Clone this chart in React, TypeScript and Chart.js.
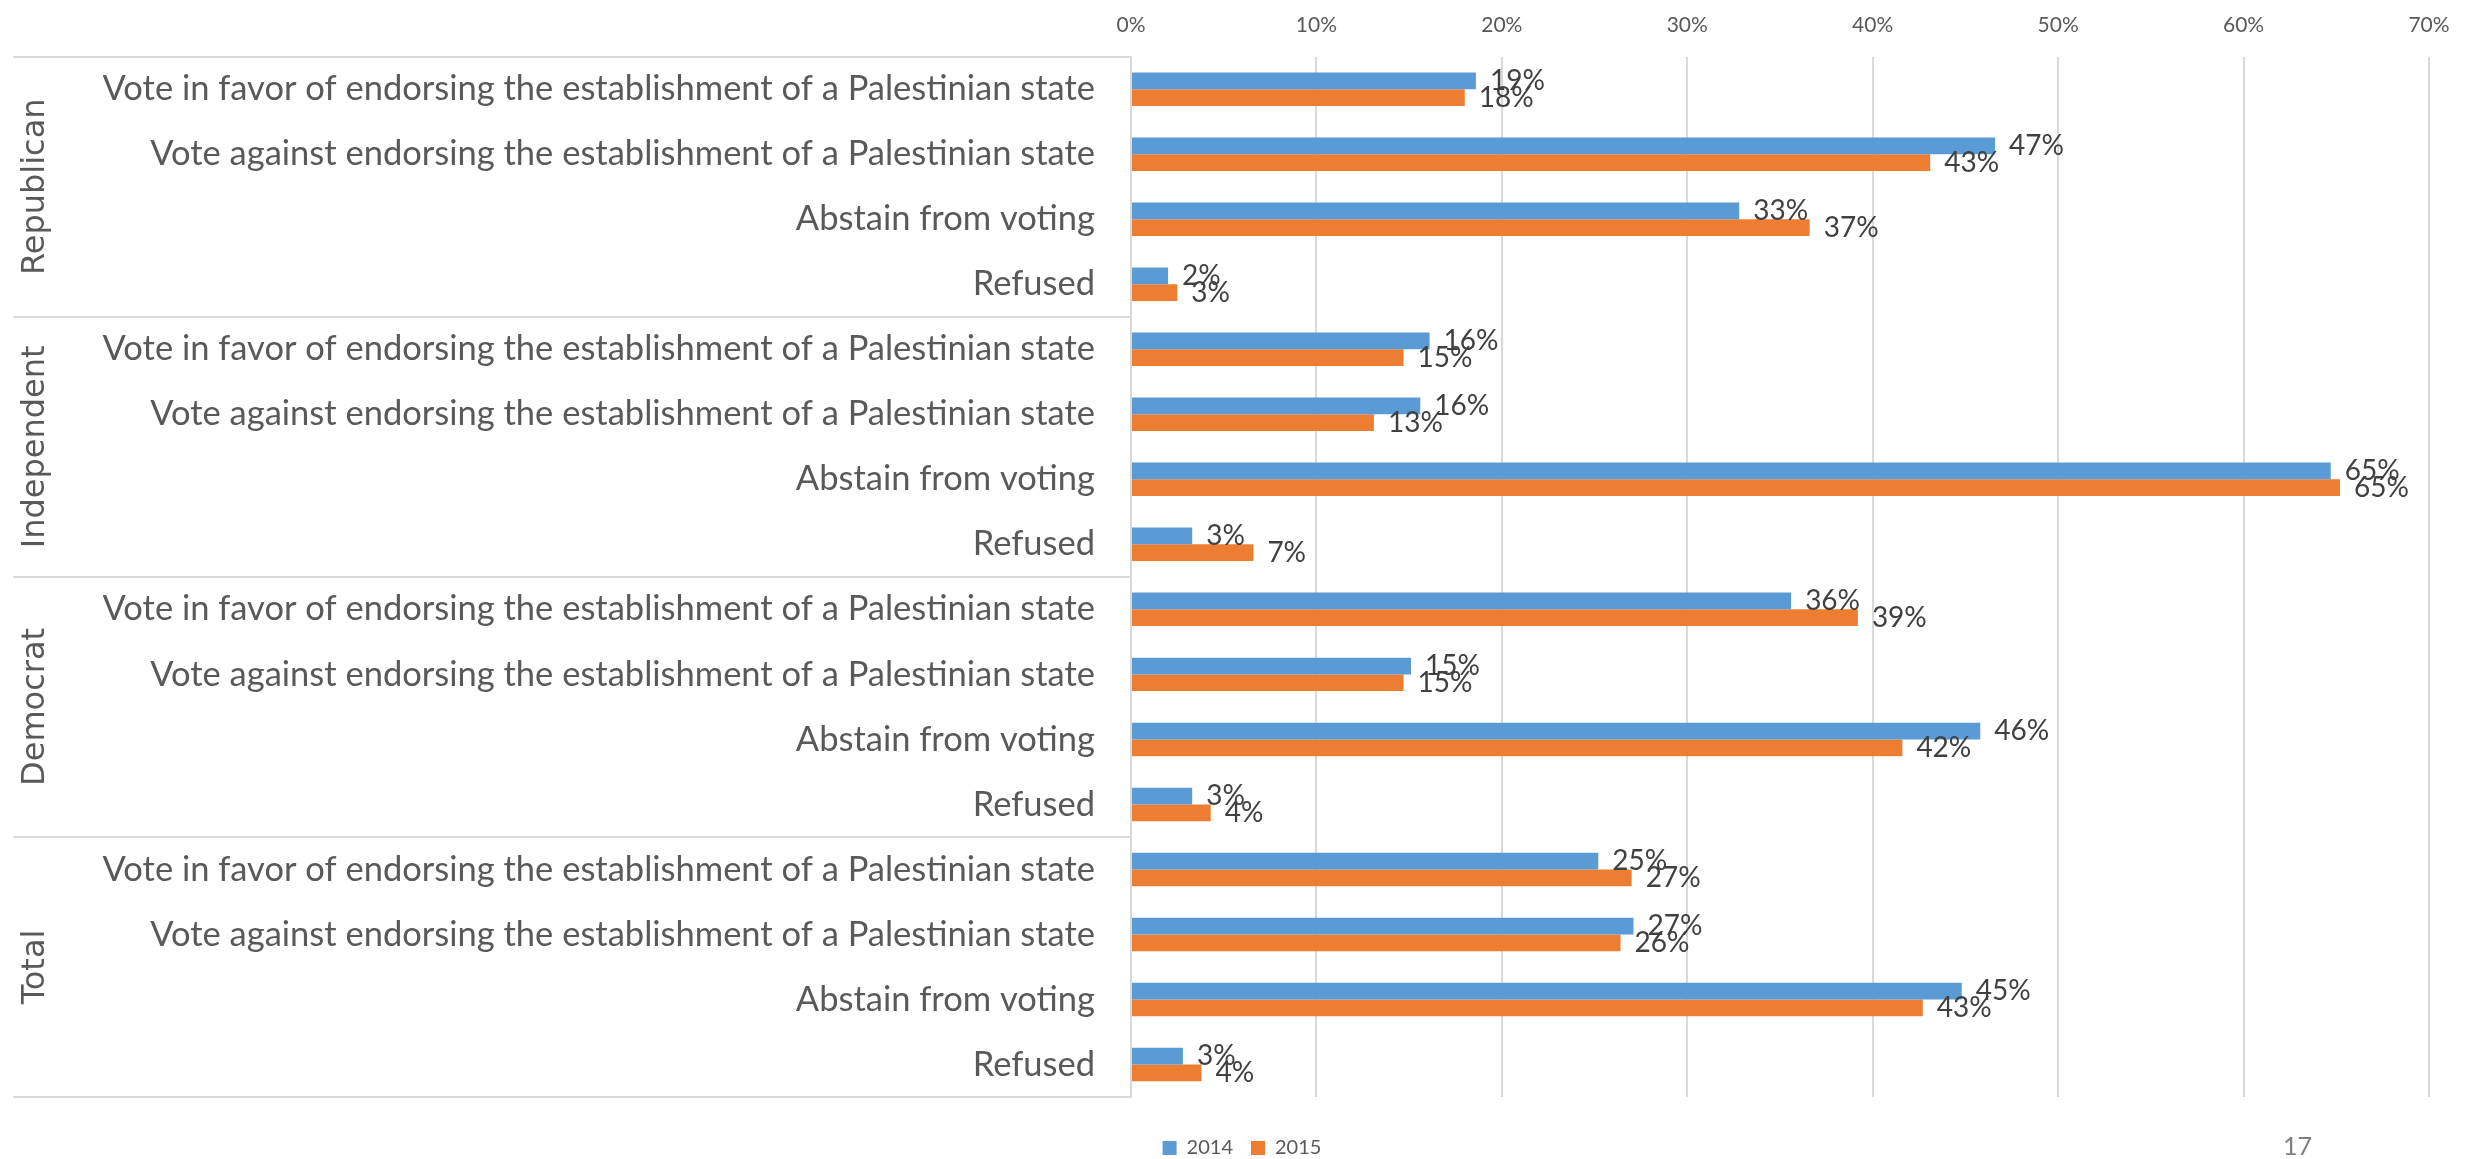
import React, { useEffect, useRef } from 'react';
import { Chart, registerables } from 'chart.js';

Chart.register(...registerables);

const groups = ['Republican', 'Independent', 'Democrat', 'Total'];
const responses = [
  'Vote in favor of endorsing the establishment of a Palestinian state',
  'Vote against endorsing the establishment of a Palestinian state',
  'Abstain from voting',
  'Refused',
];
const categories = groups.flatMap(() => responses);

const seriesNames = ['2014', '2015'];
const values2014 = [18.6, 46.6, 32.8, 2.0, 16.1, 15.6, 64.7, 3.3, 35.6, 15.1, 45.8, 3.3, 25.2, 27.1, 44.8, 2.8];
const values2015 = [18.0, 43.1, 36.6, 2.5, 14.7, 13.1, 65.2, 6.6, 39.2, 14.7, 41.6, 4.3, 27.0, 26.4, 42.7, 3.8];
const xTickValues = [0, 10, 20, 30, 40, 50, 60, 70];

const BLUE = '#5B9BD5';
const ORANGE = '#ED7D31';
const GRID = '#d9d9d9';
const FONT = 'Lato, sans-serif';

const groupPlugin = {
  id: 'groupLabels',
  afterDraw(chart: any) {
    const { ctx, chartArea, scales } = chart;
    const y = scales.y;
    ctx.save();
    ctx.strokeStyle = GRID;
    ctx.lineWidth = 2;
    const per = responses.length;
    for (let g = 0; g <= groups.length; g++) {
      const yy = Math.round(y.getPixelForValue(g * per - 0.5));
      ctx.beginPath();
      ctx.moveTo(13, yy);
      ctx.lineTo(chartArea.left, yy);
      ctx.stroke();
    }
    ctx.fillStyle = '#595959';
    ctx.font = '32px "DejaVu Sans", sans-serif';
    ctx.textAlign = 'center';
    ctx.textBaseline = 'middle';
    groups.forEach((name, g) => {
      const top = y.getPixelForValue(g * per - 0.5);
      const bot = y.getPixelForValue(g * per + per - 0.5);
      ctx.save();
      ctx.translate(36, (top + bot) / 2);
      ctx.rotate(-Math.PI / 2);
      ctx.fillText(name, 0, 0);
      ctx.restore();
    });
    ctx.restore();
  },
};

const dataLabelPlugin = {
  id: 'barValueLabels',
  afterDatasetsDraw(chart: any) {
    const { ctx } = chart;
    ctx.save();
    ctx.fillStyle = '#404040';
    ctx.font = `28px ${FONT}`;
    ctx.textAlign = 'left';
    ctx.textBaseline = 'middle';
    chart.data.datasets.forEach((ds: any, di: number) => {
      const meta = chart.getDatasetMeta(di);
      meta.data.forEach((bar: any, i: number) => {
        const v = ds.data[i];
        ctx.fillText(Math.round(v) + '%', bar.x + 14, bar.y);
      });
    });
    ctx.restore();
  },
};

export default function App() {
  const ref = useRef<HTMLCanvasElement | null>(null);

  useEffect(() => {
    if (!ref.current) return;
    const chart = new Chart(ref.current, {
      type: 'bar',
      data: {
        labels: categories,
        datasets: [
          { label: seriesNames[0], data: values2014, backgroundColor: BLUE, categoryPercentage: 0.515, barPercentage: 1 },
          { label: seriesNames[1], data: values2015, backgroundColor: ORANGE, categoryPercentage: 0.515, barPercentage: 1 },
        ],
      },
      options: {
        indexAxis: 'y',
        responsive: false,
        maintainAspectRatio: false,
        devicePixelRatio: 1,
        animation: false,
        layout: { padding: { left: 55, right: 45, top: 0, bottom: 0 } },
        scales: {
          x: {
            position: 'top',
            min: 0,
            max: 70,
            afterBuildTicks: (s: any) => {
              s.ticks = xTickValues.map((v) => ({ value: v }));
            },
            afterFit: (s: any) => {
              s.height = 55;
            },
            ticks: {
              callback: (v: any) => v + '%',
              color: '#595959',
              font: { family: FONT, size: 21 },
              padding: 19,
            },
            grid: { color: GRID, lineWidth: 2, drawTicks: false },
            border: { display: false },
          },
          y: {
            afterFit: (s: any) => {
              s.width = 1076;
            },
            ticks: {
              color: '#595959',
              font: { family: FONT, size: 34.5 },
              padding: 36,
              autoSkip: false,
            },
            grid: { display: false, drawTicks: false },
            border: { display: true, color: GRID, width: 2 },
          },
        },
        plugins: {
          legend: {
            position: 'bottom',
            labels: {
              boxWidth: 14,
              boxHeight: 14,
              padding: 18,
              color: '#595959',
              font: { family: FONT, size: 20 },
            },
            title: { display: true, text: '', padding: 0, font: { size: 10, lineHeight: 2.3 } },
          },
          tooltip: { enabled: false },
        },
      },
      plugins: [groupPlugin, dataLabelPlugin],
    } as any);
    return () => chart.destroy();
  }, []);

  return (
    <div
      style={{
        position: 'fixed',
        left: 0,
        top: 0,
        width: 2474,
        height: 1159,
        overflow: 'hidden',
        background: '#ffffff',
      }}
    >
      <canvas ref={ref} width={2474} height={1168} style={{ display: 'block', width: 2474, height: 1168 }} />
      <div
        style={{
          position: 'absolute',
          left: 2283,
          top: 1130,
          fontFamily: FONT,
          fontSize: 25,
          color: '#7f7f7f',
          lineHeight: '30px',
        }}
      >
        17
      </div>
    </div>
  );
}
